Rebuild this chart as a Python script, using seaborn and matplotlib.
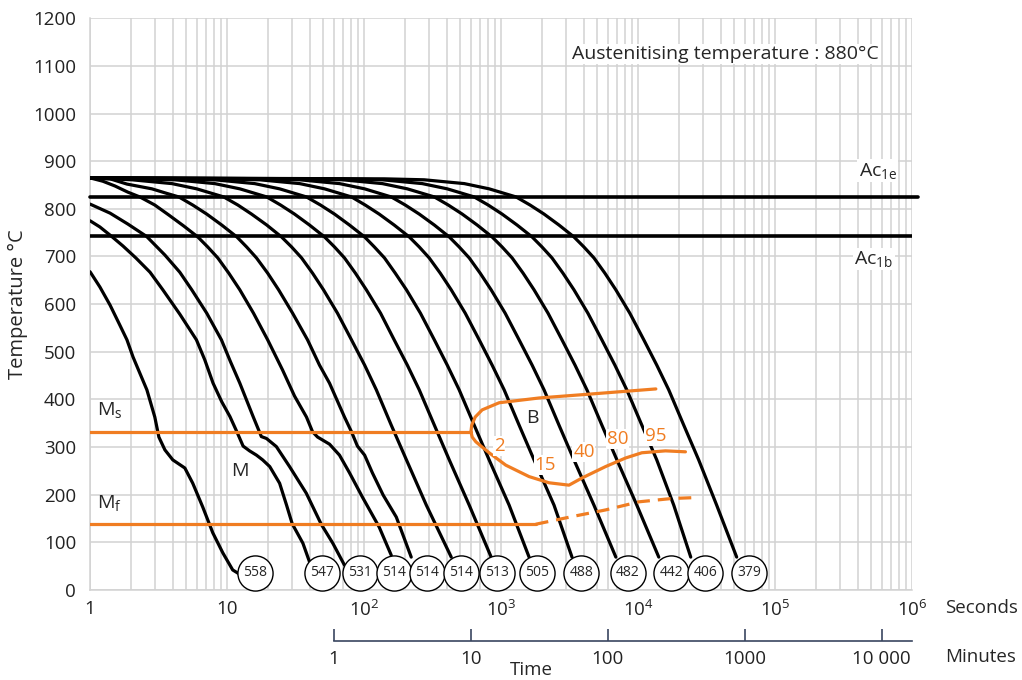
import numpy as np
import pandas as pd
import matplotlib
matplotlib.use("Agg")
import matplotlib.pyplot as plt
from matplotlib.ticker import FixedLocator, NullLocator, LogLocator
import seaborn as sns

# cooling curves (time in s, temperature in degC)
c01_time = [1, 1.18, 1.40, 1.65, 1.86, 2.06, 2.60, 2.97, 3.18, 3.52, 4.02, 4.92, 5.62, 6.65, 7.87, 9.31, 11.0, 12.2]
c01_temp = [668, 636, 598, 556, 525, 489, 420, 363, 321, 294, 273, 256, 224, 174, 120, 78, 42, 34]
c02_time = [1, 1.18, 1.44, 1.74, 2.16, 2.74, 3.40, 4.52, 5.98, 6.88, 7.91, 9.15, 10.5, 11.8, 13.1,
            14.6, 16.4, 18.2, 20.5, 24.2, 27.2, 29.9, 35.8, 40.0]
c02_temp = [775, 762, 742, 722, 697, 667, 630, 579, 525, 483, 434, 395, 364, 332, 302,
            292, 283, 273, 259, 224, 178, 139, 98, 59]
c03_time = [1, 1.40, 1.89, 2.59, 3.52, 4.52, 5.53, 7.11, 9.10, 10.6, 12.4, 15.5, 17.8, 19.4,
            22.9, 28.6, 37.9, 48.7, 59.2, 72.0]
c03_temp = [810, 791, 768, 742, 703, 667, 630, 581, 525, 479, 434, 364, 322, 318,
            301, 259, 203, 138, 98, 52]
c04_time = [1, 1.24, 1.52, 1.89, 2.31, 2.97, 3.76, 4.83, 6.12, 7.23, 8.56, 10.3, 12.4, 15.6, 19.8,
            25.4, 31.1, 38.0, 42.1, 45.8, 56.0, 66.2, 78.3, 97.3, 129, 158]
c04_temp = [865, 858, 848, 835, 825, 808, 787, 764, 741, 720, 697, 665, 630, 581, 525,
            462, 407, 363, 332, 321, 306, 283, 246, 195, 132, 73]
c05_time = [1, 1.40, 1.86, 2.83, 3.58, 4.45, 5.62, 7.11, 9.15, 11.8, 13.9, 16.4, 19.8, 23.8, 30.1,
            38.7, 47.3, 56.0, 72.0, 81.0, 89.5, 101, 115, 138, 172, 221]
c05_temp = [865, 863, 852, 842, 833, 825, 808, 789, 766, 741, 720, 697, 665, 630, 581,
            525, 472, 434, 363, 332, 302, 283, 246, 199, 153, 69]
c06_time = [1, 2.02, 3.96, 6.01, 9.46, 12.0, 15.1, 19.5, 25.0, 29.6, 35.0, 42.1, 50.6, 64.0,
            81.0, 101, 123, 158, 204, 285, 433]
c06_temp = [865, 861, 853, 842, 825, 808, 789, 766, 741, 720, 697, 665, 630, 581,
            525, 472, 420, 346, 273, 178, 69]
c07_time = [1, 2.13, 4.16, 8.13, 12.4, 19.5, 24.6, 31.1, 40.0, 51.5, 60.9, 72.0, 86.5, 104,
            132, 166, 207, 253, 326, 419, 586, 847]
c08_time = [1, 4.16, 8.13, 15.9, 24.2, 38.0, 48.1, 60.9, 78.3, 101, 119, 141, 169, 204,
            258, 326, 405, 495, 637, 819, 1146, 1602]
c09_time = [1, 8.85, 17.3, 33.9, 51.5, 81.0, 102, 129, 166, 214, 253, 299, 360, 433,
            548, 693, 861, 1054, 1355, 1742, 2437, 3296]
c10_time = [1, 17.3, 33.9, 66.2, 101, 158, 200, 253, 326, 419, 495, 586, 704, 847,
            1072, 1355, 1686, 2061, 2649, 3407, 4767, 6887]
c11_time = [1, 35.6, 69.6, 136, 207, 326, 412, 521, 670, 861, 1018, 1205, 1449, 1742,
            2203, 2786, 3467, 4236, 5445, 7015, 9800, 14170]
c12_time = [1, 69.6, 136, 266, 405, 637, 806, 1018, 1310, 1686, 1991, 2355, 2831, 3407,
            4305, 5445, 6776, 8280, 10660, 13700, 18230, 24250]
c13_time = [1, 141, 275, 539, 819, 1288, 1629, 2061, 2649, 3407, 4027, 4767, 5728, 6887,
            8710, 11020, 13700, 16760, 21560, 27720, 37500, 52480]
# the slower curves share the same temperature read-out levels
slow_temp = [865, 863, 861, 853, 842, 825, 808, 789, 766, 741, 720, 697, 665, 630,
             581, 525, 472, 420, 346, 273, 178, 69]

hardness = [558, 547, 531, 514, 514, 514, 513, 505, 488, 482, 442, 406, 379]
hardness_time = [16.1, 49.5, 94.1, 166, 286, 510, 942, 1841, 3852, 8430, 17500, 31040, 64860]
hardness_temp = [36] * 13

# transformation lines
ms_time = [1, 603]
ms_temp = [332, 332]
bs_time = [603, 611, 648, 728, 847, 969, 1894, 4381, 13490]
bs_temp = [332, 346, 363, 378, 386, 393, 403, 411, 422]
bf_time = [603, 616, 655, 728, 819, 1083, 1602, 2240, 3133, 3899, 5795, 8110, 10660, 15850, 22180]
bf_temp = [332, 321, 311, 300, 288, 262, 238, 225, 220, 235, 259, 277, 288, 292, 290]
mf_time = [1, 1792]
mf_temp = [138, 138]
mf_dash_time = [1792, 3296, 5795, 10130, 17620, 26790]
mf_dash_temp = [138, 154, 168, 185, 192, 194]

ac1e = 824
ac1b = 743
pct_labels = ["2", "15", "40", "80", "95"]
pct_time = [969, 2094, 4027, 7127, 13490]
pct_temp = [302, 262, 290, 317, 323]

ORANGE = "#f07d22"
GRID = "#d2d2d2"

sns.set_theme(style="whitegrid")
plt.rcParams["font.family"] = ["Open Sans", "DejaVu Sans"]
plt.rcParams["mathtext.fontset"] = "custom"
plt.rcParams["mathtext.rm"] = "Open Sans"
plt.rcParams["mathtext.it"] = "Open Sans:italic"

fig = plt.figure(figsize=(10.22, 6.8), dpi=100)
ax = fig.add_axes([0.0881, 0.1324, 0.8043, 0.8407])

curves = [
    (c01_time, c01_temp), (c02_time, c02_temp), (c03_time, c03_temp),
    (c04_time, c04_temp), (c05_time, c05_temp), (c06_time, c06_temp),
    (c07_time, slow_temp), (c08_time, slow_temp), (c09_time, slow_temp),
    (c10_time, slow_temp), (c11_time, slow_temp), (c12_time, slow_temp),
    (c13_time, slow_temp),
]
rows = []
for i, (tt, TT) in enumerate(curves):
    for a, b in zip(tt, TT):
        rows.append({"curve": i, "time": a, "temp": b})
df = pd.DataFrame(rows)

sns.lineplot(data=df, x="time", y="temp", units="curve", estimator=None,
             sort=False, color="black", lw=2.3, ax=ax, zorder=3)

# Ac lines
ax.plot([1, 1.1e6], [ac1e, ac1e], color="black", lw=2.6, clip_on=False, zorder=3)
ax.plot([1, 1.0e6], [ac1b, ac1b], color="black", lw=2.6, zorder=3)

# transformation lines
for tt, TT in [(ms_time, ms_temp), (bs_time, bs_temp), (bf_time, bf_temp), (mf_time, mf_temp)]:
    sns.lineplot(x=tt, y=TT, sort=False, estimator=None, color=ORANGE, lw=2.3, ax=ax, zorder=4)
sns.lineplot(x=mf_dash_time, y=mf_dash_temp, sort=False, estimator=None, color=ORANGE,
             lw=2.3, ax=ax, zorder=4, linestyle=(0, (4, 2.5)))

# hardness circles
sns.scatterplot(x=hardness_time, y=hardness_temp, s=640, color="white",
                edgecolor="black", linewidth=1.0, ax=ax, zorder=6, clip_on=False)
for h, tt, TT in zip(hardness, hardness_time, hardness_temp):
    ax.text(tt, TT, str(h), ha="center", va="center", fontsize=10, zorder=7)

ax.set_xscale("log")
ax.set_xlim(1, 1e6)
ax.set_ylim(0, 1200)
ax.set_yticks(np.arange(0, 1300, 100))
ax.xaxis.set_major_locator(FixedLocator([1, 10, 1e2, 1e3, 1e4, 1e5, 1e6]))
ax.set_xticklabels(["1", "10", "10$^{2}$", "10$^{3}$", "10$^{4}$", "10$^{5}$", "10$^{6}$"])
ax.xaxis.set_minor_locator(LogLocator(base=10, subs=np.arange(2, 10)))
ax.grid(True, which="both", color=GRID, lw=1.1)
ax.tick_params(axis="both", which="both", length=0, labelsize=13.5, colors="#222222")
ax.tick_params(axis="x", pad=7)
ax.tick_params(axis="y", pad=10)
for s in ["top", "right"]:
    ax.spines[s].set_visible(False)
for s in ["left", "bottom"]:
    ax.spines[s].set_color(GRID)
    ax.spines[s].set_linewidth(1.1)
ax.set_xlabel("")
ax.set_ylabel("Temperature °C", fontsize=14.5, labelpad=4)

# minutes axis
sec = ax.secondary_xaxis(-0.09, functions=(lambda x: x / 60.0, lambda m: m * 60.0))
sec.xaxis.set_major_locator(FixedLocator([1, 10, 100, 1000, 10000]))
sec.set_xticklabels(["1", "10", "100", "1000", "10 000"])
sec.xaxis.set_minor_locator(NullLocator())
sec.spines["bottom"].set_bounds(1, 1e6 / 60)
sec.spines["bottom"].set_color("#3a4660")
sec.spines["bottom"].set_linewidth(1.2)
sec.tick_params(axis="x", direction="in", length=9, width=1.2, color="#3a4660",
                labelsize=13.5, pad=6, labelcolor="#222222")

# labels
fig.text(945 / 1022, 1 - 608 / 680, "Seconds", fontsize=13.5, va="center", ha="left")
fig.text(945 / 1022, 1 - 657 / 680, "Minutes", fontsize=13.5, va="center", ha="left")
fig.text(531 / 1022, 1 - 670 / 680, "Time", fontsize=13.5, va="center", ha="center")

ax.text(10 ** 4.64, 1125, "Austenitising temperature : 880°C", fontsize=14,
        ha="center", va="center", zorder=5,
        bbox=dict(facecolor="white", edgecolor="none", pad=1))
ax.text(10 ** 5.75, 880, r"Ac$_{\mathrm{1e}}$", fontsize=14, ha="center", va="center",
        zorder=5, bbox=dict(facecolor="white", edgecolor="none", pad=1))
ax.text(10 ** 5.72, 695, r"Ac$_{\mathrm{1b}}$", fontsize=14, ha="center", va="center",
        zorder=5, bbox=dict(facecolor="white", edgecolor="none", pad=1))
ax.text(1.12, 378, r"M$_{\mathrm{s}}$", fontsize=14, ha="left", va="center", zorder=5)
ax.text(1.12, 183, r"M$_{\mathrm{f}}$", fontsize=14, ha="left", va="center", zorder=5)
ax.text(12.4, 250, "M", fontsize=14, ha="center", va="center", zorder=5)
ax.text(1686, 361, "B", fontsize=14, ha="center", va="center", zorder=5)
for lab, tt, TT in zip(pct_labels, pct_time, pct_temp):
    ax.text(tt, TT, lab, fontsize=13.5, color=ORANGE, ha="center", va="center", zorder=5,
            bbox=dict(facecolor="white", edgecolor="none", pad=0.5))

fig.savefig("out.png", dpi=100)
